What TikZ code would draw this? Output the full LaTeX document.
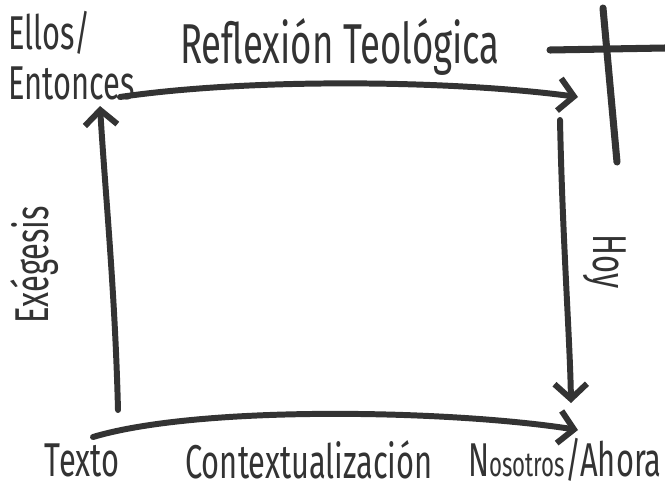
\documentclass[tikz,border=0pt]{standalone}
\usepackage{fontspec}
\setmainfont{Fira Sans}
\usepackage{graphicx}
\usepackage{tikz}
\usetikzlibrary{calc}
\usetikzlibrary{arrows.meta}
\definecolor{trazo}{HTML}{333333}
\newcommand{\mano}[1]{\scalebox{0.65}[1]{#1}}
\tikzstyle{every node}=[font=\fontsize{27}{29}\selectfont, text=trazo, inner sep=0pt]
\tikzstyle{flecha}=[line width=3.4pt, draw=trazo, line cap=round, -{Straight Barb[length=3mm, width=6.5mm]}]
\tikzstyle{cruz}=[line width=4pt, draw=trazo, line cap=round]

\begin{document}
\begin{tikzpicture}
            \useasboundingbox (0,0) rectangle (13.3,9.8);

            \coordinate (ES) at (2.4, 7.86);
            \coordinate (EN) at (11.56, 7.86);
            \coordinate (TS) at (1.86, 1.06);
            \coordinate (TN) at (11.56, 1.2);
            \coordinate (IB) at (2.36, 1.6);
            \coordinate (IA) at (2.0, 7.68);
            \coordinate (DA) at (11.2, 7.4);
            \coordinate (DB) at (11.42, 1.74);

            \node [anchor=west] (ellos) at (0.16, 9.14) {\mano{Ellos/}};
            \node [anchor=west] (entonces) at (0.16, 8.14) {\mano{Entonces}};
            \node (reflexion) at (6.8, 8.86) {\mano{\fontsize{32}{34}\selectfont Reflexión Teológica}};
            \node [rotate=90] (exegesis) at (0.7, 4.5) {\mano{Exégesis}};
            \node [rotate=-90] (hoy) at (12.1, 4.56) {\mano{Hoy}};
            \node (texto) at (1.64, 0.6) {\mano{Texto}};
            \node (contexto) at (6.18, 0.6) {\mano{Contextualización}};
            \node (nosotros) at (11.3, 0.6) {\mano{N{\fontsize{19.5}{21}\selectfont osotros}/Ahora}};

            \draw [flecha] (ES) .. controls (5, 8.24) and (9, 8.2) .. (EN);
            \draw [flecha] (IB) .. controls (2.3, 4) and (2.1, 6) .. (IA);
            \draw [flecha] (DA) .. controls (11.25, 5) and (11.4, 3) .. (DB);
            \draw [flecha] (TS) .. controls (4, 1.7) and (9, 1.6) .. (TN);

            \draw [cruz] (12.06, 9.64) -- (12.34, 6.56);
            \draw [cruz] (11, 8.8) -- (13.3, 8.84);
\end{tikzpicture}
\end{document}
